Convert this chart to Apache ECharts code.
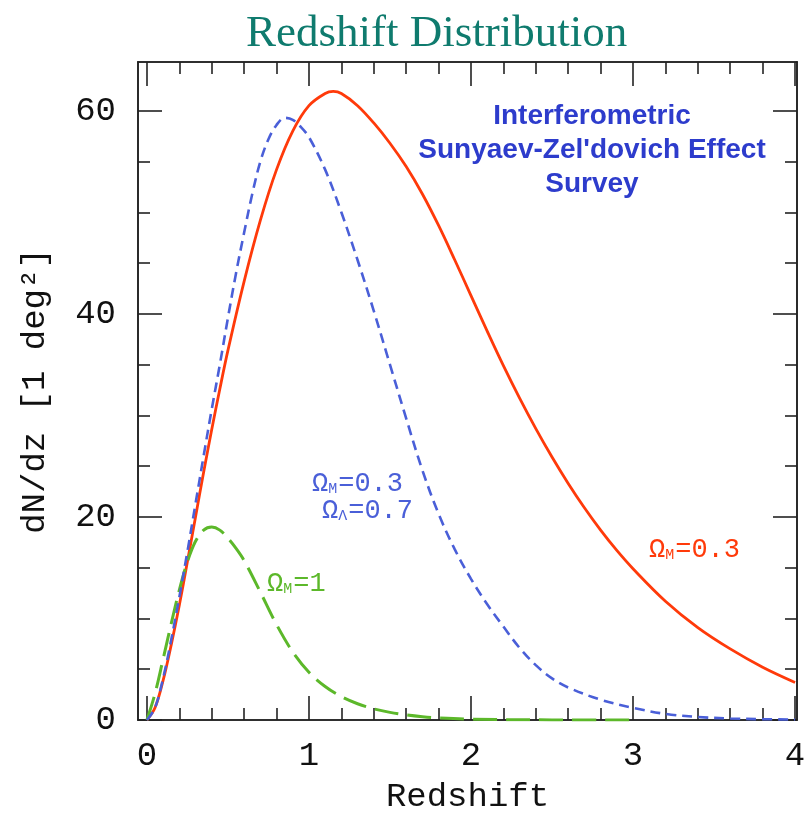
<!DOCTYPE html>
<html>
<head>
<meta charset="utf-8">
<script src="https://cdn.jsdelivr.net/npm/echarts@6/dist/echarts.min.js"></script>
<style>html,body{margin:0;padding:0;background:#fff;}#c{width:805px;height:814px;}</style>
</head>
<body>
<div id="c"></div>
<script>
// ---- data ----
var zRed = [0,0.05,0.1,0.15,0.2,0.25,0.3,0.35,0.4,0.45,0.5,0.6,0.7,0.8,0.9,1.0,1.1,1.15,1.2,1.3,1.4,1.5,1.6,1.7,1.8,1.9,2.0,2.1,2.2,2.3,2.4,2.5,2.6,2.7,2.8,2.9,3.0,3.2,3.4,3.6,3.8,4.0];
var redOpen = [0,1.2,3.9,7.4,11.3,15.6,20.0,24.4,28.6,32.6,36.4,43.2,49.2,54.2,58.0,60.5,61.7,61.9,61.7,60.5,58.8,56.8,54.5,51.8,48.7,45.3,41.8,38.3,34.9,31.7,28.7,25.9,23.3,20.9,18.7,16.7,14.9,11.7,9.1,7.0,5.2,3.7];
var zBlue = [0,0.05,0.1,0.15,0.2,0.25,0.3,0.35,0.4,0.45,0.5,0.55,0.6,0.65,0.7,0.75,0.8,0.85,0.9,0.95,1.0,1.1,1.2,1.3,1.4,1.5,1.6,1.7,1.8,1.9,2.0,2.1,2.2,2.3,2.4,2.5,2.6,2.8,3.0,3.2,3.4,3.6,3.8,4.0];
var blueLambda = [0,1.2,4.1,7.9,12.1,16.6,21.3,26.0,30.6,35.0,39.6,44.0,48.0,51.8,55.0,57.2,58.6,59.3,59.1,58.4,57.4,54.2,50.0,45.3,40.3,35.0,29.7,24.6,20.3,16.8,13.9,11.4,9.2,7.1,5.4,4.1,3.2,2.0,1.2,0.6,0.3,0.15,0.08,0.05];
var zGreen = [0,0.05,0.1,0.15,0.2,0.25,0.3,0.35,0.4,0.45,0.5,0.55,0.6,0.7,0.8,0.9,1.0,1.1,1.2,1.3,1.4,1.5,1.6,1.7,1.8,2.0,2.5,3.0];
var greenFlat = [0,2.6,6.0,9.5,12.8,15.6,17.6,18.7,19.0,18.7,17.9,16.9,15.7,12.6,9.4,6.7,4.7,3.3,2.3,1.6,1.1,0.75,0.5,0.32,0.2,0.08,0.01,0];
var xMajor = [0,1,2,3,4];
var xMinor = [0.2,0.4,0.6,0.8,1.2,1.4,1.6,1.8,2.2,2.4,2.6,2.8,3.2,3.4,3.6,3.8];
var yMajor = [0,20,40,60];
var yMinor = [5,10,15,25,30,35,45,50,55];

function pairs(xs, ys){ return xs.map(function(x,i){ return [x, ys[i]]; }); }

var XMIN = -0.055, XMAX = 4.012, YMIN = 0, YMAX = 64.8;
var axisCol = '#222';
var monoFont = '"Liberation Mono", "DejaVu Sans Mono", monospace';

function xAx(pos, vals, len, labels, name){
  return {
    type:'value', position:pos, min:XMIN, max:XMAX,
    axisLine:{show:true, onZero:false, lineStyle:{color:axisCol, width:1.6}},
    axisTick:{show:true, inside:true, length:len, customValues:vals, lineStyle:{color:axisCol, width:1.6}},
    axisLabel:{show:labels, customValues:xMajor, margin:19, color:'#111', fontFamily:monoFont, fontSize:34},
    splitLine:{show:false},
    name:name||'', nameLocation:'middle', nameGap:60,
    nameTextStyle:{color:'#111', fontFamily:monoFont, fontSize:34}
  };
}
function yAx(pos, vals, len, labels, name){
  return {
    type:'value', position:pos, min:YMIN, max:YMAX,
    axisLine:{show:true, onZero:false, lineStyle:{color:axisCol, width:1.6}},
    axisTick:{show:true, inside:true, length:len, customValues:vals, lineStyle:{color:axisCol, width:1.6}},
    axisLabel:{show:labels, customValues:yMajor, margin:22, color:'#111', fontFamily:monoFont, fontSize:34},
    splitLine:{show:false},
    name:name||'', nameLocation:'middle', nameGap:86, nameRotate:90,
    nameTextStyle:{color:'#111', fontFamily:monoFont, fontSize:34}
  };
}

var chart = echarts.init(document.getElementById('c'), null, {renderer:'canvas'});
var omegaFont = '"Liberation Mono", "DejaVu Sans Mono", monospace';
function omegaText(left, top, color, sub, rest){
  return {
    type:'text', left:left, top:top, z:100,
    style:{
      text:'{a|Ω}{s|' + sub + '}{a|' + rest + '}',
      rich:{
        a:{fontFamily:omegaFont, fontSize:27, fill:color, verticalAlign:'bottom', lineHeight:30},
        s:{fontFamily:omegaFont, fontSize:15, fill:color, verticalAlign:'bottom', lineHeight:22, padding:[0,1,0,0]}
      }
    }
  };
}

chart.setOption({
  backgroundColor:'#fff',
  animation:false,
  title:{
    text:'Redshift Distribution', left:241, top:7,
    textStyle:{fontFamily:'"Liberation Serif", "Times New Roman", serif', fontSize:45, fontWeight:'normal', color:'#0f7b6e'}
  },
  grid:{left:138, right:8, top:62, bottom:94, containLabel:false, outerBoundsMode:'none'},
  xAxis:[
    xAx('bottom', xMajor, 24, true, 'Redshift'),
    xAx('bottom', xMinor, 12, false),
    xAx('top', xMajor, 24, false),
    xAx('top', xMinor, 12, false)
  ],
  yAxis:[
    yAx('left', yMajor, 24, true, 'dN/dz [1 deg²]'),
    yAx('left', yMinor, 12, false),
    yAx('right', yMajor, 24, false),
    yAx('right', yMinor, 12, false)
  ],
  series:[
    {type:'line', name:'ΩM=1', data:pairs(zGreen, greenFlat), smooth:0.35, showSymbol:false, z:4,
     lineStyle:{color:'#5cb82a', width:3, type:[24,9]}},
    {type:'line', name:'ΩM=0.3 ΩΛ=0.7', data:pairs(zBlue, blueLambda), smooth:0.35, showSymbol:false, z:5,
     lineStyle:{color:'#4a5fd8', width:2.6, type:[10,6]}},
    {type:'line', name:'ΩM=0.3', data:pairs(zRed, redOpen), smooth:0.35, showSymbol:false, z:3,
     lineStyle:{color:'#ff3a0a', width:2.8}}
  ],
  graphic:[
    {type:'text', x:592, y:99, z:100,
     style:{text:"Interferometric\nSunyaev-Zel'dovich Effect\nSurvey", align:'center', textAlign:'center',
            fontFamily:'"Liberation Sans", Arial, sans-serif', fontWeight:'bold', fontSize:28, lineHeight:34, fill:'#2d3ccc'}},
    omegaText(312, 470, '#4a5fd8', 'M', '=0.3'),
    omegaText(322, 497, '#4a5fd8', 'Λ', '=0.7'),
    omegaText(267, 570, '#5cb82a', 'M', '=1'),
    omegaText(649, 536, '#ff3a0a', 'M', '=0.3')
  ]
});
</script>
</body>
</html>
